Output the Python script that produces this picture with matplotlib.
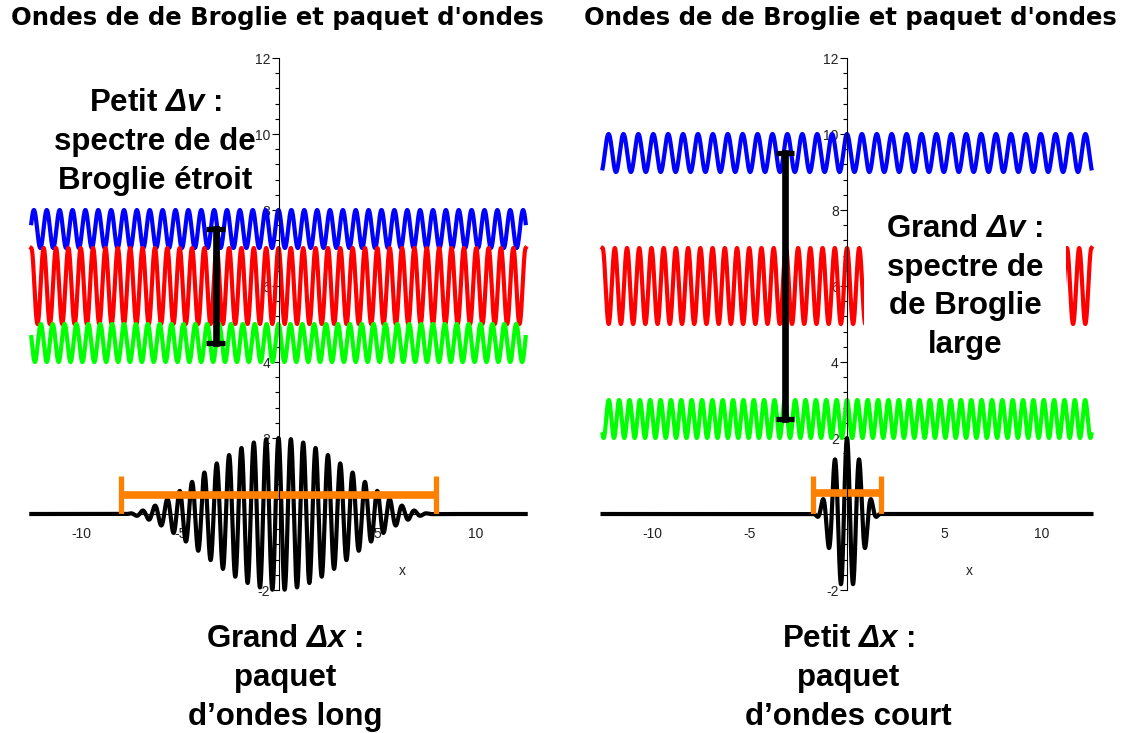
import numpy as np
import matplotlib
matplotlib.use("Agg")
import matplotlib.pyplot as plt
from matplotlib.ticker import MultipleLocator

plt.rcParams['font.family'] = ['Liberation Sans', 'DejaVu Sans']
plt.rcParams['mathtext.fontset'] = 'custom'
plt.rcParams['mathtext.rm'] = 'Liberation Sans'
plt.rcParams['mathtext.it'] = 'Liberation Sans:italic'
plt.rcParams['mathtext.bf'] = 'Liberation Sans:bold'
plt.rcParams['mathtext.bfit'] = 'Liberation Sans:bold:italic'

# de Broglie waves: blue, red, green (centre line, amplitude, wavenumber)
wave_colors = ["#0000ff", "#ff0000", "#00ff00"]
left_centres = [7.5, 6.0, 4.5]
left_amps = [0.5, 1.0, 0.5]
left_k = [9.6, 10.0, 10.4]
right_centres = [9.5, 6.0, 2.5]
right_amps = [0.5, 1.0, 0.5]
right_k = [8.2, 10.0, 11.8]

# wave packet (black) : carrier wavenumber, half width, peak height
packet_k = 10.0
packet_half_width = [8.0, 1.75]
packet_peak = 2.0

# spread bars
dv_bar_top = [7.5, 9.5]
dv_bar_bottom = [4.5, 2.5]
dv_bar_x = -3.2
dx_bar_y = [0.5, 0.55]

y_major = [-2, 2, 4, 6, 8, 10, 12]
x_major = [-10, -5, 5, 10]

title = "Ondes de de Broglie et paquet d'ondes"
dv_text = [r"Petit $\mathbfit{\Delta v}$ :" + "\nspectre de de\nBroglie étroit",
           r"Grand $\mathbfit{\Delta v}$ :" + "\nspectre de\nde Broglie\nlarge"]
dx_text = [r"Grand $\mathbfit{\Delta x}$ :" + "\npaquet\nd’ondes long",
           r"Petit $\mathbfit{\Delta x}$ :" + "\npaquet\nd’ondes court"]

W, H = 1125, 733
fig = plt.figure(figsize=(W / 100, H / 100), dpi=100)

# pixel geometry of the two panels: origin x, px per unit x, axes left/right
panels = [(278.5, 19.67, 20, 540), (847.0, 19.45, 580, 1110)]
y0px, sy, top_px, bot_px = 514, 38.0, 45, 600

x = np.linspace(-4 * np.pi, 4 * np.pi, 4000)

for i, (x0px, sx, lpx, rpx) in enumerate(panels):
    ax = fig.add_axes([lpx / W, (H - bot_px) / H, (rpx - lpx) / W, (bot_px - top_px) / H])
    ax.set_xlim((lpx - x0px) / sx, (rpx - x0px) / sx)
    ax.set_ylim((y0px - bot_px) / sy, (y0px - top_px) / sy)
    ax.patch.set_visible(False)

    for s in ['top', 'right']:
        ax.spines[s].set_visible(False)
    ax.spines['left'].set_position(('data', 0))
    ax.spines['bottom'].set_position(('data', 0))
    ax.spines['left'].set_bounds(-2, 12)
    ax.spines['bottom'].set_bounds(-4 * np.pi, 4 * np.pi)
    ax.spines['left'].set_linewidth(0.8)
    ax.spines['bottom'].set_linewidth(0.8)
    ax.set_yticks(y_major)
    ax.set_yticklabels([str(v) for v in y_major])
    ax.yaxis.set_minor_locator(MultipleLocator(0.4))
    ax.set_xticks(x_major)
    ax.set_xticklabels([str(v) for v in x_major])
    ax.tick_params(axis='y', which='major', direction='out', length=5, width=0.8,
                   labelsize=10, pad=1, labelcolor='#222222')
    ax.tick_params(axis='y', which='minor', direction='out', length=3, width=0.8)
    ax.tick_params(axis='x', which='major', direction='in', length=0,
                   labelsize=10, pad=9, labelcolor='#222222')
    ax.set_zorder(1)

    if i == 0:
        cs, amps, ks = left_centres, left_amps, left_k
    else:
        cs, amps, ks = right_centres, right_amps, right_k
    for c, a, k, col in zip(cs, amps, ks, wave_colors):
        ax.plot(x, c + a * np.cos(k * x), color=col, lw=3.0)

    L = packet_half_width[i]
    env = np.where(np.abs(x) < L, 0.5 * packet_peak * (1 + np.cos(np.pi * x / L)), 0.0)
    ax.plot(x, env * np.cos(packet_k * x), color='black', lw=3.0)

    # delta v bar
    ax.plot([dv_bar_x, dv_bar_x], [dv_bar_bottom[i], dv_bar_top[i]], color='black', lw=4.8)
    for yy in (dv_bar_bottom[i], dv_bar_top[i]):
        ax.plot([dv_bar_x - 0.47, dv_bar_x + 0.47], [yy, yy], color='black', lw=3.8,
                solid_capstyle='butt')

    # delta x bar
    ax.plot([-L, L], [dx_bar_y[i], dx_bar_y[i]], color='#ff8000', lw=5.5,
            solid_capstyle='butt')
    for xx in (-L, L):
        ax.plot([xx, xx], [0, 1], color='#ff8000', lw=3.8, solid_capstyle='butt')

    ax.text(2 * np.pi, -1.5, 'x', fontsize=10, color='#222222', ha='center', va='center')

# titles
for cx in (277, 850):
    fig.text(cx / W, 1 - 18 / H, title, fontsize=17.5, fontweight='bold', ha='center',
             va='center', family=['DejaVu Sans'])

# annotations
fs = 22.5
ls = 1.37
fig.text(155 / W, 1 - 142 / H, dv_text[0], fontsize=fs, fontweight='bold', ha='center',
         va='center', linespacing=ls, zorder=5)
fig.text(965 / W, 1 - 287 / H, dv_text[1], fontsize=fs, fontweight='bold', ha='center',
         va='center', linespacing=ls, zorder=5,
         bbox=dict(facecolor='white', edgecolor='none', pad=16))
fig.text(285 / W, 1 - 678 / H, dx_text[0], fontsize=fs, fontweight='bold', ha='center',
         va='center', linespacing=ls)
fig.text(848 / W, 1 - 678 / H, dx_text[1], fontsize=fs, fontweight='bold', ha='center',
         va='center', linespacing=ls)

fig.savefig("out.png", dpi=100, facecolor='white')
